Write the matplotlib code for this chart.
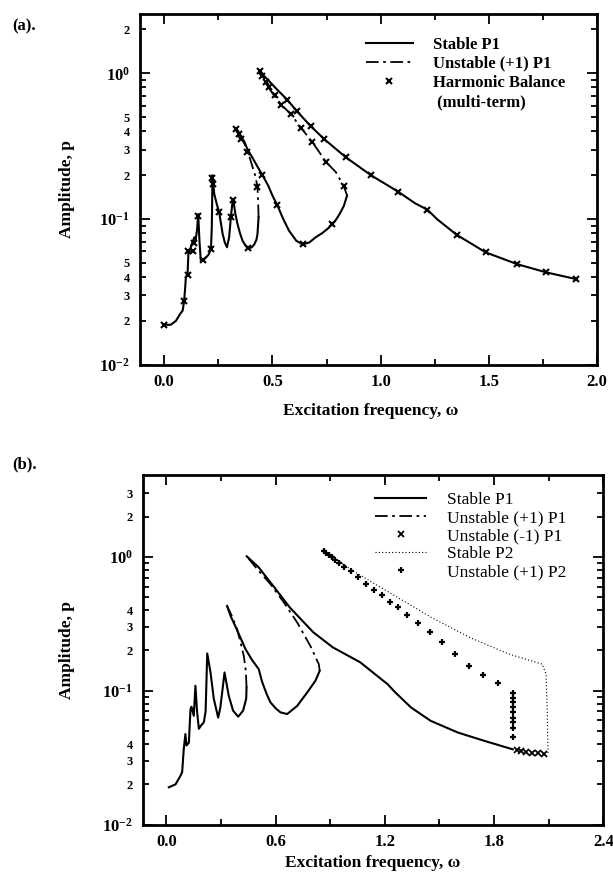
import matplotlib
matplotlib.use('Agg')
import matplotlib.pyplot as plt
from matplotlib.lines import Line2D

plt.rcParams['font.family'] = ['Liberation Serif', 'DejaVu Serif']
plt.rcParams['font.weight'] = 'bold'
plt.rcParams['mathtext.fontset'] = 'custom'
plt.rcParams['mathtext.rm'] = 'Liberation Serif:bold'
plt.rcParams['mathtext.it'] = 'Liberation Serif:italic:bold'
plt.rcParams['mathtext.bf'] = 'Liberation Serif:bold'

# ---------------- panel (a) data ----------------
a_s1_w = [0.0, 0.03, 0.054, 0.075, 0.085, 0.092, 0.097, 0.10, 0.108, 0.112, 0.118,
          0.125, 0.132, 0.139, 0.145, 0.152, 0.157, 0.163, 0.169, 0.18, 0.193, 0.205,
          0.216, 0.220, 0.223, 0.231, 0.242, 0.254, 0.270, 0.280, 0.290, 0.300, 0.308,
          0.314, 0.319, 0.328, 0.339, 0.350, 0.362, 0.375, 0.389, 0.405, 0.416, 0.426,
          0.431, 0.436]
a_s1_p = [0.0188, 0.0188, 0.020, 0.0225, 0.0235, 0.0273, 0.034, 0.040, 0.042, 0.060, 0.060,
          0.066, 0.070, 0.075, 0.071, 0.085, 0.108, 0.070, 0.052, 0.052, 0.0545, 0.057,
          0.062, 0.090, 0.20, 0.149, 0.128, 0.111, 0.079, 0.069, 0.064, 0.075, 0.103,
          0.125, 0.137, 0.110, 0.092, 0.080, 0.071, 0.066, 0.063, 0.064, 0.067, 0.072,
          0.079, 0.103]
a_u1_w = [0.436, 0.434, 0.431, 0.42, 0.408, 0.393, 0.377, 0.36, 0.345, 0.335]
a_u1_p = [0.103, 0.13, 0.166, 0.20, 0.228, 0.27, 0.313, 0.355, 0.39, 0.41]
a_s2_w = [0.335, 0.35, 0.37, 0.385, 0.41, 0.43, 0.454, 0.48, 0.50, 0.523, 0.55, 0.577,
          0.61, 0.639, 0.67, 0.70, 0.73, 0.76, 0.79, 0.81, 0.83, 0.845]
a_s2_p = [0.41, 0.38, 0.34, 0.30, 0.26, 0.23, 0.20, 0.17, 0.145, 0.124, 0.10, 0.083,
          0.071, 0.067, 0.069, 0.075, 0.080, 0.087, 0.097, 0.108, 0.123, 0.145]
a_u2_w = [0.845, 0.829, 0.793, 0.748, 0.685, 0.631, 0.586, 0.541, 0.505, 0.468, 0.441]
a_u2_p = [0.145, 0.169, 0.21, 0.246, 0.336, 0.425, 0.522, 0.61, 0.713, 0.855, 1.03]
a_s3_w = [0.441, 0.486, 0.523, 0.568, 0.613, 0.676, 0.739, 0.838, 0.955, 1.081, 1.16,
          1.216, 1.26, 1.351, 1.486, 1.631, 1.766, 1.90]
a_s3_p = [1.03, 0.88, 0.77, 0.66, 0.55, 0.435, 0.354, 0.266, 0.20, 0.154, 0.128,
          0.116, 0.100, 0.078, 0.059, 0.049, 0.043, 0.0388]
a_hb_w = [0.0, 0.092, 0.108, 0.112, 0.131, 0.139, 0.157, 0.177, 0.216, 0.223, 0.226,
          0.254, 0.308, 0.319, 0.389, 0.431, 0.333, 0.346, 0.357, 0.384, 0.454, 0.523,
          0.639, 0.775, 0.829, 0.748, 0.685, 0.631, 0.586, 0.541, 0.514, 0.486, 0.468,
          0.450, 0.441, 0.568, 0.613, 0.676, 0.739, 0.838, 0.955, 1.081, 1.216, 1.351,
          1.486, 1.631, 1.766, 1.901]
a_hb_p = [0.0188, 0.0273, 0.041, 0.060, 0.060, 0.069, 0.105, 0.052, 0.062, 0.19, 0.175,
          0.112, 0.103, 0.135, 0.063, 0.166, 0.413, 0.382, 0.354, 0.287, 0.20, 0.124,
          0.067, 0.092, 0.169, 0.246, 0.336, 0.424, 0.522, 0.61, 0.713, 0.812, 0.878,
          0.959, 1.03, 0.66, 0.55, 0.435, 0.354, 0.266, 0.20, 0.154, 0.116, 0.078,
          0.059, 0.049, 0.043, 0.0388]

# ---------------- panel (b) data ----------------
b_s1_w = [0.013, 0.05, 0.077, 0.086, 0.095, 0.104, 0.11, 0.123, 0.132, 0.137, 0.15,
          0.159, 0.168, 0.178, 0.19, 0.205, 0.215, 0.224, 0.242, 0.26, 0.284, 0.296,
          0.306, 0.319, 0.342, 0.366, 0.394, 0.421, 0.438, 0.44]
b_s1_p = [0.019, 0.020, 0.0232, 0.0246, 0.0367, 0.0475, 0.039, 0.041, 0.073, 0.076, 0.065,
          0.109, 0.07, 0.052, 0.055, 0.058, 0.07, 0.19, 0.137, 0.087, 0.063, 0.075,
          0.097, 0.137, 0.092, 0.071, 0.064, 0.071, 0.087, 0.106]
b_u1_w = [0.44, 0.436, 0.425, 0.405, 0.388, 0.36, 0.333]
b_u1_p = [0.106, 0.14, 0.182, 0.235, 0.288, 0.36, 0.43]
b_s2_w = [0.333, 0.352, 0.39, 0.434, 0.47, 0.507, 0.526, 0.55, 0.571, 0.6, 0.626, 0.663,
          0.718, 0.773, 0.819, 0.842]
b_s2_p = [0.43, 0.363, 0.28, 0.205, 0.17, 0.145, 0.116, 0.095, 0.082, 0.074, 0.069, 0.067,
          0.077, 0.097, 0.119, 0.141]
b_u2_w = [0.842, 0.837, 0.79, 0.718, 0.645, 0.57, 0.505, 0.441]
b_u2_p = [0.141, 0.158, 0.217, 0.324, 0.457, 0.63, 0.79, 1.01]
b_s3_w = [0.441, 0.505, 0.591, 0.677, 0.806, 0.914, 1.065, 1.215, 1.258, 1.344, 1.452,
          1.602, 1.753, 1.903]
b_s3_p = [1.01, 0.84, 0.596, 0.42, 0.274, 0.211, 0.163, 0.112, 0.097, 0.075, 0.0596,
          0.0487, 0.042, 0.0365]
b_m1_w = [1.925, 1.946, 1.978, 2.011, 2.043, 2.075]
b_m1_p = [0.036, 0.0355, 0.035, 0.0345, 0.034, 0.0335]
b_p2s_w = [0.86, 1.022, 1.237, 1.452, 1.667, 1.882, 2.065, 2.086, 2.092, 2.097]
b_p2s_p = [1.12, 0.79, 0.53, 0.355, 0.25, 0.188, 0.158, 0.133, 0.075, 0.0335]
b_p2u_w = [0.865, 0.877, 0.892, 0.910, 0.927, 0.948, 0.978, 1.013, 1.054, 1.097, 1.140,
           1.183, 1.226, 1.273, 1.323, 1.383, 1.447, 1.516, 1.585, 1.660, 1.742, 1.822,
           1.903, 1.903, 1.903, 1.903, 1.903, 1.903, 1.903, 1.903, 1.903]
b_p2u_p = [1.10, 1.07, 1.03, 0.99, 0.944, 0.90, 0.84, 0.785, 0.708, 0.631, 0.562,
           0.516, 0.46, 0.42, 0.365, 0.32, 0.274, 0.23, 0.188, 0.154, 0.13, 0.115,
           0.097, 0.089, 0.082, 0.075, 0.069, 0.063, 0.058, 0.053, 0.045]

y_major = [0.01, 0.1, 1.0]
y_major_lab = ['$10^{-2}$', '$10^{-1}$', '$10^{0}$']
a_minor = [0.02, 0.03, 0.04, 0.05, 0.06, 0.07, 0.08, 0.09,
           0.2, 0.3, 0.4, 0.5, 0.6, 0.7, 0.8, 0.9, 2.0]
a_minor_lab = ['2', '3', '4', '5', '', '', '', '',
               '2', '3', '4', '5', '', '', '', '', '2']
b_minor = [0.02, 0.03, 0.04, 0.05, 0.06, 0.07, 0.08, 0.09,
           0.2, 0.3, 0.4, 0.5, 0.6, 0.7, 0.8, 0.9, 2.0, 3.0]
b_minor_lab = ['2', '3', '4', '', '', '', '', '',
               '2', '3', '4', '', '', '', '', '', '2', '3']

dashdot = (0, (7, 2.5, 1.5, 2.5))

fig = plt.figure(figsize=(6.13, 8.81), dpi=100)
ax1 = fig.add_axes([0.228, 0.586, 0.746, 0.398])
ax2 = fig.add_axes([0.233, 0.064, 0.751, 0.397])


def style(ax, xt, xmin, ylim, minor, minor_lab, xlim):
    ax.set_yscale('log')
    ax.set_xlim(*xlim)
    ax.set_ylim(*ylim)
    ax.set_yticks(y_major)
    ax.set_yticklabels(y_major_lab)
    ax.set_yticks(minor, minor=True)
    ax.set_yticklabels(minor_lab, minor=True)
    ax.set_xticks(xt)
    ax.set_xticklabels(['%.1f' % v for v in xt])
    ax.set_xticks(xmin, minor=True)
    ax.tick_params(which='both', direction='in', top=True, right=True, width=1.3)
    ax.tick_params(which='major', length=7, labelsize=12, pad=7)
    ax.tick_params(axis='y', which='minor', length=4, labelsize=9, pad=7)
    ax.tick_params(axis='x', which='minor', length=4)
    for s in ax.spines.values():
        s.set_linewidth(2.0)
    ax.set_ylabel('Amplitude, p', fontsize=12.5, fontweight='bold')
    ax.set_xlabel('Excitation frequency, ω', fontsize=12.5, fontweight='bold')


# ---- (a) ----
for w, p in [(a_s1_w, a_s1_p), (a_s2_w, a_s2_p), (a_s3_w, a_s3_p)]:
    ax1.plot(w, p, color='black', lw=1.5)
for w, p in [(a_u1_w, a_u1_p), (a_u2_w, a_u2_p)]:
    ax1.plot(w, p, color='black', lw=1.3, linestyle=dashdot)
ax1.plot(a_hb_w, a_hb_p, linestyle='none', marker='x', ms=5, mew=1.5, color='black')
style(ax1, [0.0, 0.5, 1.0, 1.5, 2.0], [0.25, 0.75, 1.25, 1.75], (0.01, 2.55),
      a_minor, a_minor_lab, (-0.113, 2.0))
ax1.yaxis.set_label_coords(-0.142, 0.5)
ax1.xaxis.set_label_coords(0.505, -0.11)

h1 = [Line2D([], [], color='black', lw=1.5),
      Line2D([], [], color='black', lw=1.3, linestyle=dashdot),
      Line2D([], [], color='black', linestyle='none', marker='x', ms=5, mew=1.5),
      Line2D([], [], linestyle='none')]
ax1.legend(h1, ['Stable P1', 'Unstable (+1) P1', 'Harmonic Balance', ' (multi-term)'],
           loc='upper left', bbox_to_anchor=(0.48, 0.955), frameon=False,
           fontsize=12, handlelength=2.8, handletextpad=1.2, labelspacing=0.2,
           borderaxespad=0)
fig.text(0.02, 0.965, '(a).', fontsize=12, fontweight='bold')

# ---- (b) ----
for w, p in [(b_s1_w, b_s1_p), (b_s2_w, b_s2_p), (b_s3_w, b_s3_p)]:
    ax2.plot(w, p, color='black', lw=1.5)
for w, p in [(b_u1_w, b_u1_p), (b_u2_w, b_u2_p)]:
    ax2.plot(w, p, color='black', lw=1.3, linestyle=dashdot)
ax2.plot(b_m1_w, b_m1_p, linestyle='none', marker='x', ms=4, mew=1.3, color='black')
ax2.plot(b_p2s_w, b_p2s_p, color='black', lw=0.8, linestyle=(0, (1, 2)))
ax2.plot(b_p2u_w, b_p2u_p, linestyle='none', marker='+', ms=5, mew=1.6, color='black')
style(ax2, [0.0, 0.6, 1.2, 1.8, 2.4], [0.3, 0.9, 1.5, 2.1], (0.01, 4.1),
      b_minor, b_minor_lab, (-0.13, 2.4))
ax2.yaxis.set_label_coords(-0.148, 0.5)
ax2.xaxis.set_label_coords(0.5, -0.088)

h2 = [Line2D([], [], color='black', lw=1.5),
      Line2D([], [], color='black', lw=1.3, linestyle=dashdot),
      Line2D([], [], color='black', linestyle='none', marker='x', ms=4, mew=1.3),
      Line2D([], [], color='black', lw=0.8, linestyle=(0, (1, 2))),
      Line2D([], [], color='black', linestyle='none', marker='+', ms=5, mew=1.6)]
ax2.legend(h2, ['Stable P1', 'Unstable (+1) P1', 'Unstable (-1) P1', 'Stable P2',
                'Unstable (+1) P2'],
           loc='upper left', bbox_to_anchor=(0.49, 0.97), frameon=False,
           prop={'size': 12.5, 'weight': 'normal'}, handlelength=2.9,
           handletextpad=1.2, labelspacing=0.1, borderaxespad=0)
fig.text(0.02, 0.468, '(b).', fontsize=12, fontweight='bold')

fig.savefig('out.png', dpi=100)
